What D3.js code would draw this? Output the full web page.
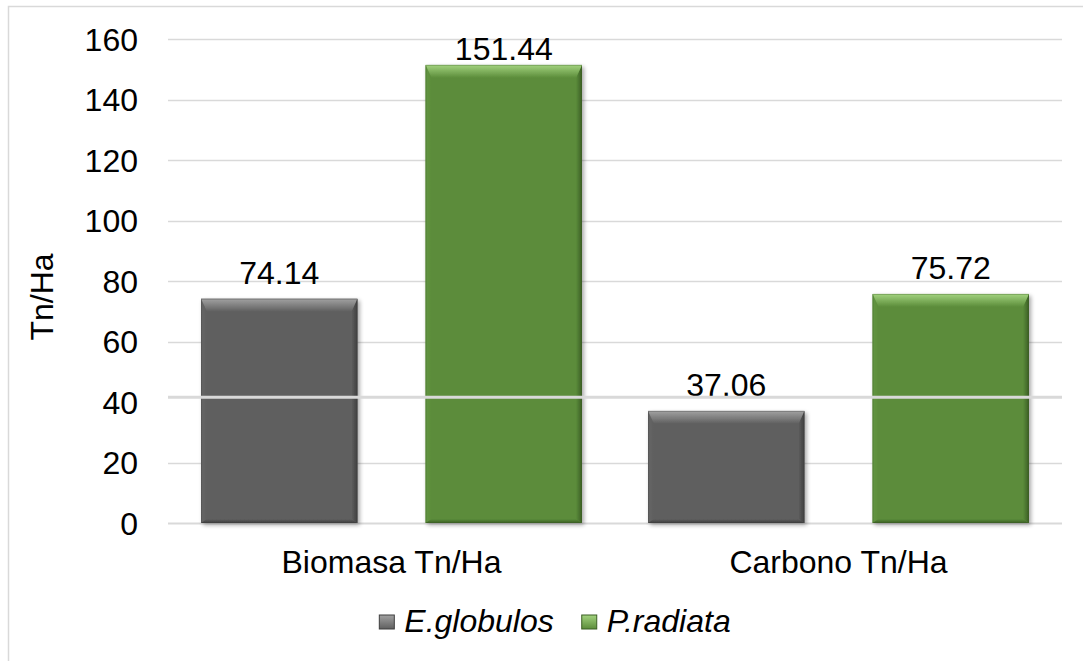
<!DOCTYPE html>
<html>
<head>
<meta charset="utf-8">
<script src="https://cdn.jsdelivr.net/npm/d3@7"></script>
<style>
  html, body { margin: 0; padding: 0; background: #fff; }
  svg { display: block; font-family: "Liberation Sans", Arial, sans-serif; }
</style>
</head>
<body>
<svg id="chart" width="1083" height="661"></svg>
<script>
// Biomass and carbon stock per hectare by species
const categories = ["Biomasa Tn/Ha", "Carbono Tn/Ha"];
const seriesNames = ["E.globulos", "P.radiata"];
const eGlobulos = [74.14, 37.06];
const pRadiata = [151.44, 75.72];
const yTicks = [0, 20, 40, 60, 80, 100, 120, 140, 160];
const axisTitle = "Tn/Ha";
const highlightRule = 41.6;

const palette = {
  "E.globulos": { face: "#5f5f5f", light: "#a2a2a2", side: "#676767", dark: "#3e3e3e" },
  "P.radiata":  { face: "#5b8c3a", light: "#a3d37f", side: "#639641", dark: "#3b5e24" }
};

const FS = 32;
const svg = d3.select("#chart");
const margin = { left: 168, right: 21, top: 39, bottom: 138 };
const W = 1083, H = 661;

// outer frame (only top and left edges fall inside the canvas)
svg.append("rect").attr("x", 8.5).attr("y", 6.5).attr("width", 1100).attr("height", 700)
  .attr("fill", "none").attr("stroke", "#d9d9d9").attr("stroke-width", 1.5);

const x0 = d3.scaleBand().domain(categories).range([margin.left, W - margin.right]).padding(0);
const x1 = d3.scaleBand().domain(seriesNames).range([0, x0.bandwidth()])
  .paddingInner(0.3036).paddingOuter(0.147);
const y = d3.scaleLinear().domain([0, 160]).range([H - margin.bottom, margin.top]);

const defs = svg.append("defs");
const shadow = defs.append("filter").attr("id", "shadow")
  .attr("x", "-10%").attr("y", "-10%").attr("width", "130%").attr("height", "130%");
shadow.append("feGaussianBlur").attr("in", "SourceAlpha").attr("stdDeviation", 2);
shadow.append("feOffset").attr("dx", 2).attr("dy", 2).attr("result", "b");
shadow.append("feComponentTransfer").append("feFuncA").attr("type", "linear").attr("slope", 0.35);
const m = shadow.append("feMerge");
m.append("feMergeNode");
m.append("feMergeNode").attr("in", "SourceGraphic");

seriesNames.forEach((s, i) => {
  const c = palette[s];
  const g = defs.append("linearGradient").attr("id", "top" + i)
    .attr("x1", 0).attr("y1", 0).attr("x2", 0).attr("y2", 1);
  g.append("stop").attr("offset", 0).attr("stop-color", c.light);
  g.append("stop").attr("offset", 1).attr("stop-color", c.face);
  const r = defs.append("linearGradient").attr("id", "right" + i)
    .attr("x1", 0).attr("y1", 0).attr("x2", 1).attr("y2", 0);
  r.append("stop").attr("offset", 0).attr("stop-color", c.face);
  r.append("stop").attr("offset", 1).attr("stop-color", c.dark);
  const b = defs.append("linearGradient").attr("id", "bottom" + i)
    .attr("x1", 0).attr("y1", 0).attr("x2", 0).attr("y2", 1);
  b.append("stop").attr("offset", 0).attr("stop-color", c.face);
  b.append("stop").attr("offset", 1).attr("stop-color", c.dark);
  const l = defs.append("linearGradient").attr("id", "left" + i)
    .attr("x1", 0).attr("y1", 0).attr("x2", 1).attr("y2", 0);
  l.append("stop").attr("offset", 0).attr("stop-color", c.side);
  l.append("stop").attr("offset", 1).attr("stop-color", c.face);
});

// gridlines
const gridTicks = yTicks.filter(t => t !== 40);
svg.append("g").selectAll("line").data(gridTicks).join("line")
  .attr("x1", margin.left).attr("x2", W - margin.right)
  .attr("y1", d => Math.round(y(d)) + 0.5).attr("y2", d => Math.round(y(d)) + 0.5)
  .attr("stroke", "#d9d9d9").attr("stroke-width", d => d === 0 ? 2 : 1.3);

// y tick labels
svg.append("g").selectAll("text").data(yTicks).join("text")
  .attr("x", 138).attr("y", d => y(d)).attr("dy", "0.36em")
  .attr("text-anchor", "end").attr("font-size", FS).attr("fill", "#000")
  .text(d => d);

// y axis title
svg.append("text")
  .attr("transform", `translate(53, ${(y(0) + y(160)) / 2 + 16}) rotate(-90)`)
  .attr("text-anchor", "middle").attr("font-size", FS).attr("fill", "#000")
  .text(axisTitle);

// bars
const rows = [];
categories.forEach((cat, ci) => {
  rows.push({ cat, s: "E.globulos", si: 0, v: eGlobulos[ci] });
  rows.push({ cat, s: "P.radiata", si: 1, v: pRadiata[ci] });
});

const bars = svg.append("g").selectAll("g").data(rows).join("g")
  .attr("filter", "url(#shadow)");

bars.each(function (d) {
  const g = d3.select(this);
  const c = palette[d.s];
  const x = x0(d.cat) + x1(d.s);
  const w = x1.bandwidth();
  const top = y(d.v);
  const bot = y(0);
  const bv = 13, sv = 6, bb = 4;
  g.append("rect").attr("x", x).attr("y", top).attr("width", w).attr("height", bot - top)
    .attr("fill", c.face);
  // left bevel
  g.append("path").attr("d", `M${x},${top} L${x + sv},${top + bv} L${x + sv},${bot - bb} L${x},${bot} Z`)
    .attr("fill", `url(#left${d.si})`);
  // right bevel
  g.append("path").attr("d", `M${x + w},${top} L${x + w - sv},${top + bv} L${x + w - sv},${bot - bb} L${x + w},${bot} Z`)
    .attr("fill", `url(#right${d.si})`);
  // bottom bevel
  g.append("path").attr("d", `M${x},${bot} L${x + sv},${bot - bb} L${x + w - sv},${bot - bb} L${x + w},${bot} Z`)
    .attr("fill", `url(#bottom${d.si})`);
  // top bevel
  g.append("path").attr("d", `M${x},${top} L${x + w},${top} L${x + w - sv},${top + bv} L${x + sv},${top + bv} Z`)
    .attr("fill", `url(#top${d.si})`);
  g.append("rect").attr("x", x + 0.5).attr("y", top + 0.5).attr("width", w - 1).attr("height", bot - top - 1)
    .attr("fill", "none").attr("stroke", c.dark).attr("stroke-opacity", 0.35);
});

// value labels, kept inside the plot area
svg.append("g").selectAll("text").data(rows).join("text")
  .attr("x", d => x0(d.cat) + x1(d.s) + x1.bandwidth() / 2)
  .attr("y", d => Math.max(y(d.v) - 15, y(160) + 21))
  .attr("text-anchor", "middle").attr("font-size", FS).attr("fill", "#000")
  .text(d => d.v.toFixed(2));

// light rule drawn across the bars
svg.append("line")
  .attr("x1", margin.left).attr("x2", W - margin.right)
  .attr("y1", y(highlightRule)).attr("y2", y(highlightRule))
  .attr("stroke", "#d9d9d9").attr("stroke-width", 3);

// category labels
svg.append("g").selectAll("text").data(categories).join("text")
  .attr("x", d => x0(d) + x0.bandwidth() / 2).attr("y", 573)
  .attr("text-anchor", "middle").attr("font-size", FS).attr("fill", "#000")
  .text(d => d);

// legend
const legend = svg.append("g");
const items = legend.selectAll("g").data(seriesNames).join("g");
items.append("rect").attr("width", 15).attr("height", 14).attr("y", -17)
  .attr("fill", (d, i) => `url(#top${i})`).attr("stroke", d => palette[d].dark).attr("stroke-width", 1);
items.append("text").attr("x", 25).attr("font-size", FS).attr("font-style", "italic")
  .attr("fill", "#000").text(d => d);
let cx = 0;
const offs = [];
items.each(function () {
  offs.push(cx);
  cx += 25 + this.querySelector("text").getComputedTextLength() + 28;
});
const total = cx - 28;
items.attr("transform", (d, i) => `translate(${555 - total / 2 + offs[i]}, 632)`);
</script>
</body>
</html>
